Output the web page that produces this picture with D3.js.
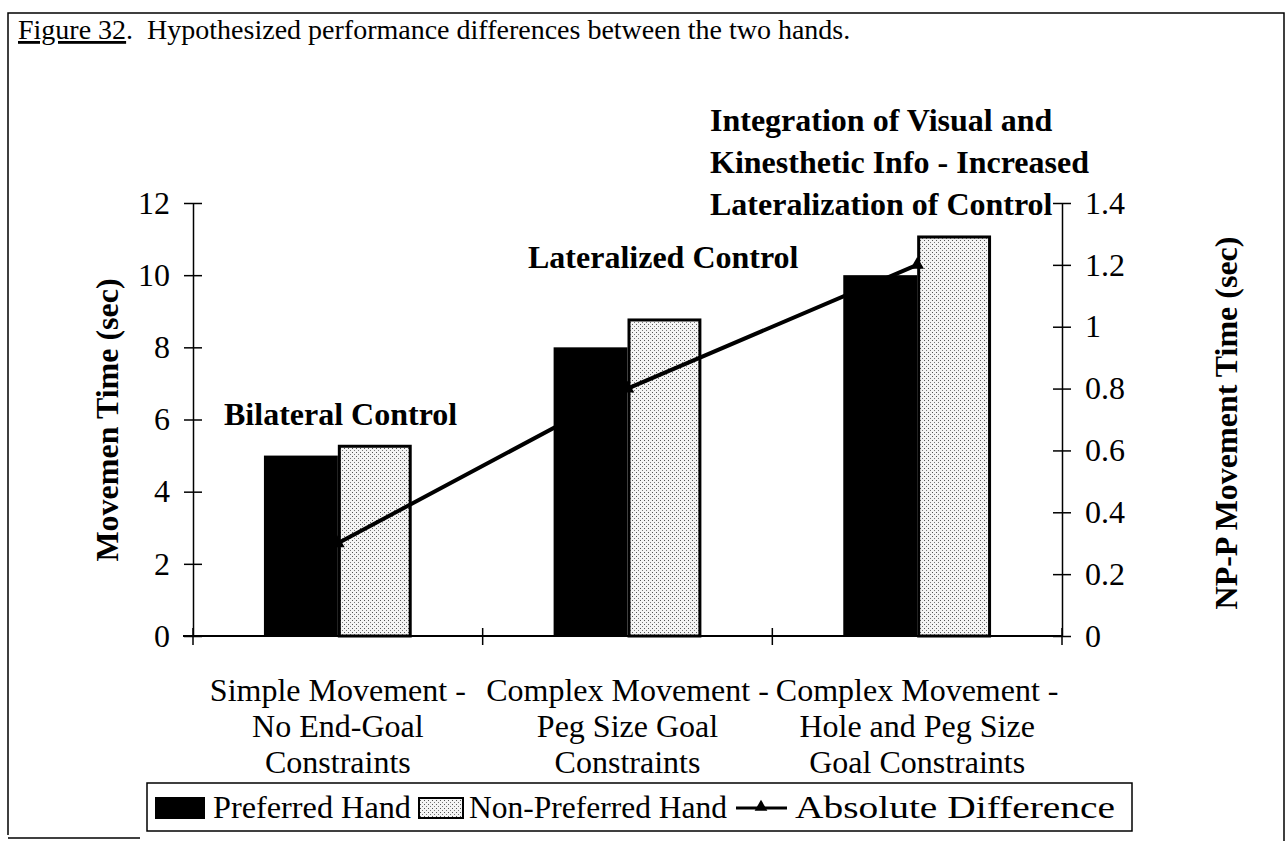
<!DOCTYPE html>
<html>
<head>
<meta charset="utf-8">
<script src="https://cdn.jsdelivr.net/npm/d3@7"></script>
<style>
  body { margin: 0; background: #fff; }
  svg { display: block; }
  svg text { font-family: "Liberation Serif", "Times New Roman", serif; white-space: pre; }
  .bold { font-weight: bold; }
</style>
</head>
<body>
<div id="chart"></div>
<script>
// chart data
const categories = [
  ["Simple Movement -", "No End-Goal", "Constraints"],
  ["Complex Movement -", "Peg Size Goal", "Constraints"],
  ["Complex Movement -", "Hole and Peg Size", "Goal Constraints"],
];
const preferredHand = [5.0, 8.0, 10.0];
const nonPreferredHand = [5.3, 8.8, 11.1];
const absoluteDifference = [0.3, 0.8, 1.2];
const leftTicks = [0, 2, 4, 6, 8, 10, 12];
const rightTicks = [0, 0.2, 0.4, 0.6, 0.8, 1, 1.2, 1.4];
const annotations = [
  ["Bilateral Control"],
  ["Lateralized Control"],
  ["Integration of Visual and", "Kinesthetic Info - Increased", "Lateralization of Control"],
];

const width = 1287;
const height = 841;
const marginLeft = 193;
const marginRight = 225;
const plotTop = 203;
const plotBottom = 636;
const serif = "Liberation Serif";

const svg = d3
  .select("#chart")
  .append("svg")
  .attr("width", width)
  .attr("height", height)
  .attr("viewBox", [0, 0, width, height]);

// stipple pattern for the non-preferred hand bars
const pattern = svg
  .append("defs")
  .append("pattern")
  .attr("id", "stipple")
  .attr("width", 4)
  .attr("height", 4)
  .attr("patternUnits", "userSpaceOnUse");
pattern.append("rect").attr("width", 4).attr("height", 4).attr("fill", "#f4f4f4");
pattern.append("rect").attr("x", 0).attr("y", 0).attr("width", 1).attr("height", 1).attr("fill", "#555");
pattern.append("rect").attr("x", 2).attr("y", 2).attr("width", 1).attr("height", 1).attr("fill", "#777");

// figure frame (scanned page border)
svg.append("path")
  .attr("d", `M8,835 V13 H1284 V${height}`)
  .attr("fill", "none")
  .attr("stroke", "#000")
  .attr("stroke-width", 1.5);
svg.append("line")
  .attr("x1", 8).attr("x2", 140).attr("y1", 838).attr("y2", 838)
  .attr("stroke", "#000").attr("stroke-width", 1.5);

// title
const title = svg.append("text").attr("x", 18).attr("y", 39).attr("font-size", 28);
title.append("tspan").attr("text-decoration", "underline").text("Figure 32");
title.append("tspan").text(".  Hypothesized performance differences between the two hands.");

// scales
const keys = categories.map((d, i) => i);
const xScale = d3.scaleBand(keys, [marginLeft, width - marginRight]);
const series = ["preferred", "nonPreferred"];
const xSub = d3.scaleBand(series, [0, xScale.bandwidth()]).paddingInner(0).paddingOuter(0.96);
const yScale = d3.scaleLinear([0, 12], [plotBottom, plotTop]);
const y2Scale = d3.scaleLinear([0, 1.4], [plotBottom, plotTop]);

// bars
const bars = svg.append("g").classed("bars", true);
bars.selectAll(".pref")
  .data(keys)
  .join("rect")
  .attr("x", (i) => xScale(i) + xSub("preferred"))
  .attr("y", (i) => yScale(preferredHand[i]))
  .attr("width", xSub.bandwidth())
  .attr("height", (i) => yScale(0) - yScale(preferredHand[i]))
  .attr("fill", "#000");
bars.selectAll(".nonpref")
  .data(keys)
  .join("rect")
  .attr("x", (i) => xScale(i) + xSub("nonPreferred") + 1.5)
  .attr("y", (i) => yScale(nonPreferredHand[i]) + 1.5)
  .attr("width", xSub.bandwidth() - 3)
  .attr("height", (i) => yScale(0) - yScale(nonPreferredHand[i]) - 1.5)
  .attr("fill", "url(#stipple)")
  .attr("stroke", "#000")
  .attr("stroke-width", 3);

// left axis
const yAxis = d3.axisLeft(yScale).tickValues(leftTicks).tickSize(9).tickSizeOuter(0).tickPadding(14);
svg.append("g")
  .attr("transform", `translate(${marginLeft},0)`)
  .call(yAxis)
  .call((g) => g.select(".domain").attr("stroke-width", 1.5))
  .call((g) => g.selectAll(".tick line").attr("x1", 9).attr("stroke-width", 1.5))
  .call((g) => g.selectAll(".tick text").attr("font-size", 32).attr("font-family", serif));

// right axis ("0", "0.2" ... "1", "1.2", "1.4")
const y2Axis = d3
  .axisRight(y2Scale)
  .tickValues(rightTicks)
  .tickFormat(d3.format(".1~f"))
  .tickSize(9)
  .tickSizeOuter(0)
  .tickPadding(14);
svg.append("g")
  .attr("transform", `translate(${width - marginRight},0)`)
  .call(y2Axis)
  .call((g) => g.select(".domain").attr("stroke-width", 1.5))
  .call((g) => g.selectAll(".tick line").attr("x1", -9).attr("stroke-width", 1.5))
  .call((g) => g.selectAll(".tick text").attr("font-size", 32).attr("font-family", serif));

// bottom axis with ticks between the categories
const xAxisG = svg.append("g").attr("transform", `translate(0,${plotBottom})`);
xAxisG.append("line")
  .attr("x1", marginLeft - 10).attr("x2", width - marginRight)
  .attr("stroke", "#000").attr("stroke-width", 2);
const boundaries = keys.map((i) => xScale(i)).concat([xScale(keys[keys.length - 1]) + xScale.bandwidth()]);
xAxisG.selectAll(".btick")
  .data(boundaries)
  .join("line")
  .attr("x1", (d) => d).attr("x2", (d) => d)
  .attr("y1", -8).attr("y2", 9)
  .attr("stroke", "#000").attr("stroke-width", 1.5);

// category labels
svg.append("g")
  .selectAll("text")
  .data(keys)
  .join("text")
  .attr("text-anchor", "middle")
  .attr("font-size", 32)
  .attr("x", (i) => xScale(i) + xScale.bandwidth() / 2)
  .attr("y", 701)
  .selectAll("tspan")
  .data((i) => categories[i])
  .join("tspan")
  .attr("x", function () { return this.parentNode.getAttribute("x"); })
  .attr("dy", (d, j) => (j === 0 ? 0 : 36))
  .text((d) => d);

// absolute difference line with triangle markers
const lineX = (i) => xScale(i) + xSub("nonPreferred");
const line = d3.line().x((d, i) => lineX(i)).y((d) => y2Scale(d));
svg.append("path")
  .attr("d", line(absoluteDifference))
  .attr("fill", "none")
  .attr("stroke", "#000")
  .attr("stroke-width", 4);
svg.selectAll(".marker")
  .data(absoluteDifference)
  .join("path")
  .attr("transform", (d, i) => `translate(${lineX(i)},${y2Scale(d)})`)
  .attr("d", d3.symbol(d3.symbolTriangle, 80))
  .attr("fill", "#000");

// axis titles
svg.append("text")
  .attr("class", "bold")
  .attr("transform", `translate(118,420) rotate(-90)`)
  .attr("text-anchor", "middle")
  .attr("font-size", 32)
  .text("Movemen Time (sec)");
svg.append("text")
  .attr("class", "bold")
  .attr("transform", `translate(1237,423) rotate(-90)`)
  .attr("text-anchor", "middle")
  .attr("font-size", 32)
  .text("NP-P Movement Time (sec)");

// annotations above each group
const annotationX = [224, 528, 710];
const annotationY = [425, 268, 131];
svg.append("g")
  .selectAll("text")
  .data(keys)
  .join("text")
  .attr("class", "bold")
  .attr("font-size", 32)
  .attr("x", (i) => annotationX[i])
  .attr("y", (i) => annotationY[i])
  .selectAll("tspan")
  .data((i) => annotations[i])
  .join("tspan")
  .attr("x", function () { return this.parentNode.getAttribute("x"); })
  .attr("dy", (d, j) => (j === 0 ? 0 : 42))
  .text((d) => d);

// legend
const legend = svg.append("g").attr("font-size", 32);
legend.append("rect")
  .attr("x", 147).attr("y", 783).attr("width", 985).attr("height", 48)
  .attr("fill", "#fff").attr("stroke", "#000").attr("stroke-width", 1.5);
legend.append("rect")
  .attr("x", 155).attr("y", 797).attr("width", 50).attr("height", 22).attr("fill", "#000");
legend.append("text").attr("x", 213).attr("y", 818).attr("textLength", 198).attr("lengthAdjust", "spacingAndGlyphs").text("Preferred Hand");
legend.append("rect")
  .attr("x", 419).attr("y", 798).attr("width", 44).attr("height", 20)
  .attr("fill", "url(#stipple)").attr("stroke", "#000").attr("stroke-width", 2);
legend.append("text").attr("x", 469).attr("y", 818).attr("textLength", 258).attr("lengthAdjust", "spacingAndGlyphs").text("Non-Preferred Hand");
legend.append("line")
  .attr("x1", 736).attr("x2", 787).attr("y1", 808).attr("y2", 808)
  .attr("stroke", "#000").attr("stroke-width", 3);
legend.append("path")
  .attr("transform", "translate(761,807)")
  .attr("d", d3.symbol(d3.symbolTriangle, 70))
  .attr("fill", "#000");
legend.append("text").attr("x", 795).attr("y", 818).attr("textLength", 320).attr("lengthAdjust", "spacingAndGlyphs").text("Absolute Difference");
</script>
</body>
</html>
